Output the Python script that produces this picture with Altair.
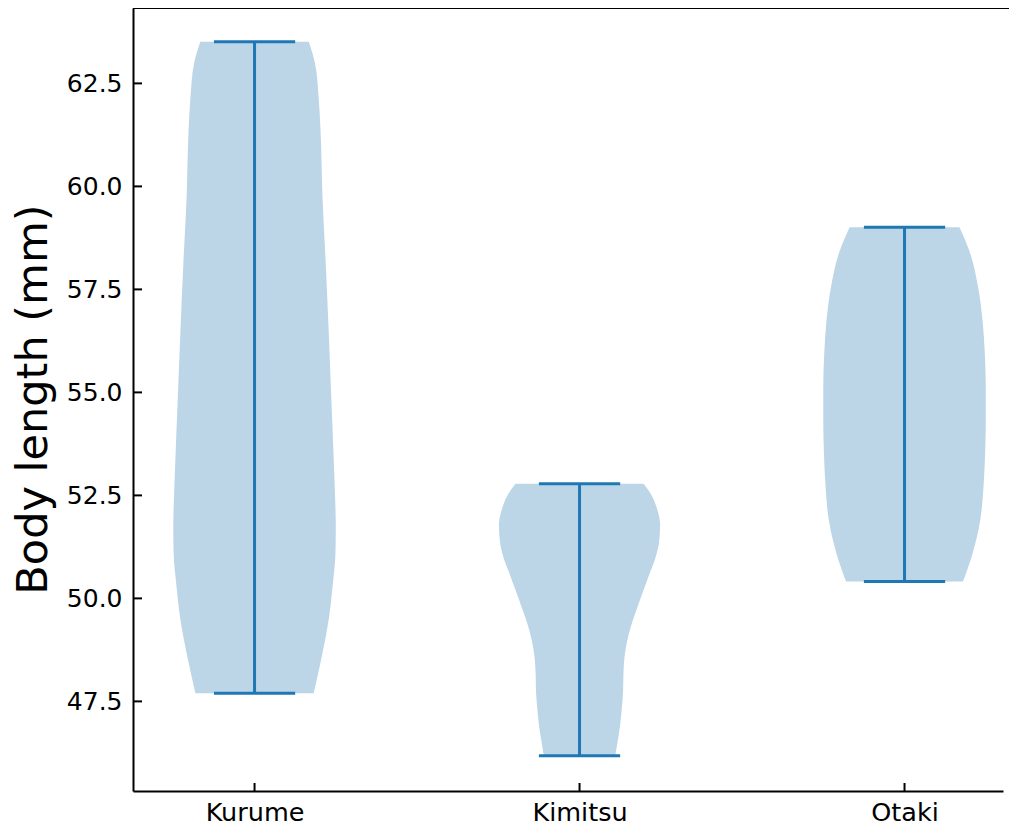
import altair as alt
import pandas as pd

# ---- data ----
groups = ["Kurume", "Kimitsu", "Otaki"]
positions = [1, 2, 3]
mins = [47.70, 46.18, 50.41]
maxs = [63.51, 52.78, 59.01]

# violin outlines: levels (mm) and half-widths (in x-position units)
kurume_values = [63.51, 62.99, 62.18, 61.37, 59.75, 58.14, 56.51, 54.90, 53.29, 51.66, 51.10, 50.28, 49.47, 48.67, 47.70]
kurume_halfwidths = [0.167, 0.186, 0.197, 0.203, 0.209, 0.219, 0.228, 0.236, 0.244, 0.250, 0.249, 0.240, 0.228, 0.209, 0.182]

kimitsu_values = [52.78, 52.51, 52.19, 51.78, 51.38, 50.97, 50.57, 50.16, 49.76, 49.35, 48.95, 48.55, 48.14, 47.74, 47.33, 46.93, 46.52, 46.18]
kimitsu_halfwidths = [0.197, 0.221, 0.238, 0.248, 0.245, 0.233, 0.214, 0.195, 0.177, 0.159, 0.146, 0.138, 0.135, 0.134, 0.130, 0.125, 0.117, 0.110]

otaki_values = [59.01, 58.38, 57.57, 56.76, 55.95, 55.14, 54.33, 53.52, 52.71, 51.90, 51.08, 50.41]
otaki_halfwidths = [0.169, 0.202, 0.226, 0.240, 0.247, 0.250, 0.250, 0.248, 0.243, 0.233, 0.209, 0.180]

y_ticks = [47.5, 50.0, 52.5, 55.0, 57.5, 60.0, 62.5]
y_title = "Body length (mm)"

# ---- tables ----
rows = []
for g, p, vals, hws in zip(groups, positions,
                           [kurume_values, kimitsu_values, otaki_values],
                           [kurume_halfwidths, kimitsu_halfwidths, otaki_halfwidths]):
    for v, h in zip(vals, hws):
        rows.append({"group": g, "pos": p, "value": v, "hw": h})
profile = pd.DataFrame(rows)
stats = pd.DataFrame({"group": groups, "pos": positions, "min": mins, "max": maxs})

W, H = 870, 783
FONT = "DejaVu Sans"
BLUE = "#1f77b4"

xscale = alt.Scale(domain=[0.626, 3.303], nice=False, zero=False)
yscale = alt.Scale(domain=[45.325, 64.33], nice=False, zero=False)

label_expr = "[" + ",".join("'" + g + "'" for g in groups) + "][datum.value - 1]"

x_axis = alt.Axis(values=positions, labelExpr=label_expr, ticks=False, domain=True,
                  domainColor="black", domainWidth=2, labelFontSize=25.5, labelPadding=9,
                  grid=False, title=None, labelFont=FONT, labelColor="black")
y_axis = alt.Axis(values=y_ticks, format=".1f", ticks=False, domain=True,
                  domainColor="black", domainWidth=2, labelFontSize=25, labelPadding=11,
                  grid=False, labelFont=FONT, labelColor="black",
                  title=y_title, titleFontSize=43, titleFontWeight="normal",
                  titleFont=FONT, titleColor="black", titleX=-100, titleY=391,
                  titleAngle=270, titleBaseline="middle", titleAlign="center")


def X(field):
    return alt.X(field, scale=xscale, axis=x_axis)


def Y(field):
    return alt.Y(field, scale=yscale, axis=y_axis)


violins = alt.Chart(profile).transform_calculate(
    left="datum.pos - datum.hw", right="datum.pos + datum.hw"
).mark_area(orient="horizontal", interpolate="monotone", color="#bcd6e8").encode(
    y=Y("value:Q"),
    x=X("left:Q"),
    x2="right:Q",
    detail="group:N",
)

center = alt.Chart(stats).mark_rule(color=BLUE, strokeWidth=3).encode(
    x=X("pos:Q"), y=Y("min:Q"), y2="max:Q"
)

caps_base = alt.Chart(stats).transform_calculate(
    l="datum.pos - 0.125", r="datum.pos + 0.125"
)
cap_min = caps_base.mark_rule(color=BLUE, strokeWidth=3).encode(
    x=X("l:Q"), x2="r:Q", y=Y("min:Q")
)
cap_max = caps_base.mark_rule(color=BLUE, strokeWidth=3).encode(
    x=X("l:Q"), x2="r:Q", y=Y("max:Q")
)

ytick_marks = alt.Chart(pd.DataFrame({"t": y_ticks})).mark_rule(color="black", strokeWidth=2).encode(
    y=Y("t:Q"), x=alt.value(0), x2=alt.value(9)
)
xtick_marks = alt.Chart(pd.DataFrame({"p": positions})).mark_rule(color="black", strokeWidth=2).encode(
    x=X("p:Q"), y=alt.value(H), y2=alt.value(H - 8)
)
top_spine = alt.Chart(pd.DataFrame({"a": [0]})).mark_rule(color="black", strokeWidth=2).encode(
    y=alt.value(0), x=alt.value(0), x2=alt.value(W + 8)
)

chart = alt.layer(
    violins, center, cap_min, cap_max, ytick_marks, xtick_marks, top_spine
).properties(
    width=W, height=H,
    autosize=alt.AutoSizeParams(type="none"),
    padding={"left": 125, "top": 0, "right": 6, "bottom": 36},
).configure(font=FONT).configure_view(strokeWidth=0)

chart.save("out.html", embed_options={"renderer": "svg", "actions": False})
